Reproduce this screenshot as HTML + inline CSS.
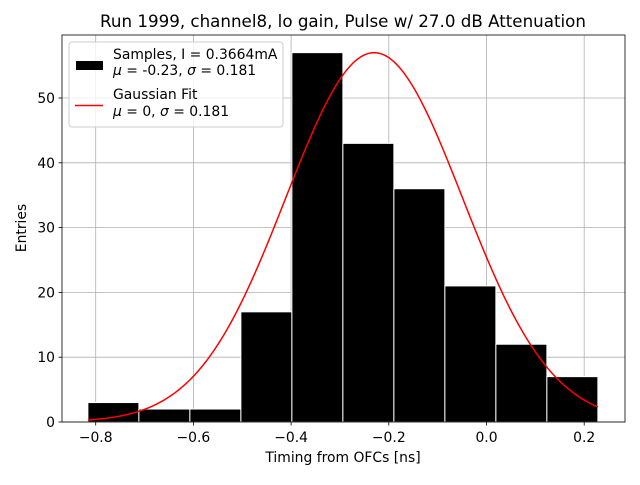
<!DOCTYPE html>
<html><head><meta charset="utf-8"><style>
body{margin:0;background:#fff}
svg text{font-family:"DejaVu Sans","Liberation Sans",sans-serif;fill:#000}
</style></head><body>
<svg id="chart" width="640" height="480" viewBox="0 0 640 480" xmlns="http://www.w3.org/2000/svg">
<rect width="640" height="480" fill="#fff"/>
<text x="343" y="27" font-size="16.7" text-anchor="middle">Run 1999, channel8, lo gain, Pulse w/ 27.0 dB Attenuation</text>
<g id="grid"></g>
<g id="bars"></g>
<path id="fit" fill="none" stroke="#ff0000" stroke-width="1.5"/>
<rect x="62" y="35" width="563" height="387" fill="none" stroke="#000" stroke-width="0.8"/>
<g id="ticks"></g>
<text x="343" y="462" font-size="13.9" text-anchor="middle">Timing from OFCs [ns]</text>
<text transform="translate(26,228) rotate(-90)" font-size="13.9" text-anchor="middle">Entries</text>
<g>
<rect x="69" y="42" width="214" height="85" rx="3" fill="#fff" fill-opacity="0.8" stroke="#ccc"/>
<rect x="76" y="61" width="27" height="9" fill="#000"/>
<text x="113" y="59" font-size="13.9">Samples, I = 0.3664mA</text>
<text x="113" y="75" font-size="13.9"><tspan font-style="italic">μ</tspan> = -0.23, <tspan font-style="italic">σ</tspan> = 0.181</text>
<line x1="75" y1="105.5" x2="103" y2="105.5" stroke="#ff0000" stroke-width="1.5"/>
<text x="113" y="99" font-size="13.9">Gaussian Fit</text>
<text x="113" y="116" font-size="13.9"><tspan font-style="italic">μ</tspan> = 0, <tspan font-style="italic">σ</tspan> = 0.181</text>
</g>
</svg>
<script>
const binStart = -0.816;
const binWidth = 0.1044;
const counts = [3, 2, 2, 17, 57, 43, 36, 21, 12, 7];
const fitMu = -0.23;
const fitSigma = 0.181;
const fitAmp = 57;
const xTicks = [-0.8, -0.6, -0.4, -0.2, 0.0, 0.2];
const xTickLabels = ["−0.8", "−0.6", "−0.4", "−0.2", "0.0", "0.2"];
const yTicks = [0, 10, 20, 30, 40, 50];

const NS = "http://www.w3.org/2000/svg";
const X = v => 486.5 + v * 488.5;
const Y = v => 422 - v * 6.48;
function mk(tag, attrs, parent){const e=document.createElementNS(NS,tag);for(const k in attrs)e.setAttribute(k,attrs[k]);parent.appendChild(e);return e;}
const grid=document.getElementById('grid'), ticks=document.getElementById('ticks'), bars=document.getElementById('bars');
xTicks.forEach((t,i)=>{
  const gl=mk('line',{x1:X(t),x2:X(t),y1:35,y2:422,stroke:'#b0b0b0','stroke-width':0.8},grid);
  
  
  const tk=mk('line',{x1:X(t),x2:X(t),y1:422,y2:425.5,stroke:'#000','stroke-width':0.8},ticks);
  
  
  const tx=mk('text',{x:X(t),y:442,'font-size':13.9,'text-anchor':'middle'},ticks);
  tx.textContent=xTickLabels[i];
  
  
});
yTicks.forEach(t=>{
  const gl=mk('line',{x1:62,x2:625,y1:Y(t),y2:Y(t),stroke:'#b0b0b0','stroke-width':0.8},grid);
  
  
  const tk=mk('line',{x1:58.5,x2:62,y1:Y(t),y2:Y(t),stroke:'#000','stroke-width':0.8},ticks);
  
  
  const tx=mk('text',{x:55,y:Y(t)+5,'font-size':13.9,'text-anchor':'end'},ticks);
  tx.textContent=t;
  
  
});
counts.forEach((c,i)=>{
  const x0=X(binStart+i*binWidth), x1=X(binStart+(i+1)*binWidth);
  const r=mk('rect',{x:x0,y:Y(c),width:x1-x0,height:Y(0)-Y(c),fill:'#000',stroke:'#fff','stroke-width':1},bars);
  
  
});
let d='';
const lo=binStart, hi=binStart+counts.length*binWidth;
for(let i=0;i<=200;i++){
  const v=lo+(hi-lo)*i/200;
  const g=fitAmp*Math.exp(-((v-fitMu)**2)/(2*fitSigma*fitSigma));
  d+=(i?'L':'M')+X(v).toFixed(2)+','+Y(g).toFixed(2);
}
document.getElementById('fit').setAttribute('d',d);
</script>
</body></html>
